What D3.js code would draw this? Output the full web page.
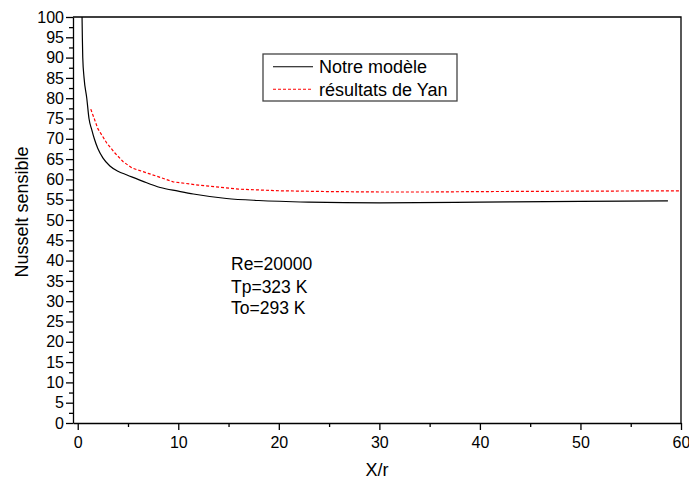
<!DOCTYPE html>
<html>
<head>
<meta charset="utf-8">
<script src="https://cdn.jsdelivr.net/npm/d3@7"></script>
<style>
  body { margin: 0; background: #fff; }
  svg { display: block; font-family: Arial, "Liberation Sans", sans-serif; }
</style>
</head>
<body>
<svg width="689" height="479"></svg>
<script>
// Notre modèle (solid black)
var modelX = [0.43, 0.46, 0.5, 0.63, 0.9, 1.12, 1.4, 1.65, 2.0, 2.5, 3.2, 4.0, 4.9, 6.5, 8.2, 10, 11.5, 14.8, 18, 23, 30, 40, 50, 58.7];
var modelY = [100, 95, 90, 85, 80, 75, 72.2, 70, 67.6, 65.3, 63.3, 62.0, 61.1, 59.5, 58.0, 57.1, 56.4, 55.3, 54.8, 54.4, 54.2, 54.4, 54.6, 54.7];

// résultats de Yan (red dashed)
var yanX = [1.3, 2, 2.9, 3.7, 4.5, 5.4, 7, 9.5, 12, 16, 20, 25, 30, 35, 40, 50, 60];
var yanY = [77.3, 72.5, 68.9, 66.5, 64.4, 62.8, 61.5, 59.4, 58.6, 57.6, 57.2, 57.0, 56.9, 56.9, 57.0, 57.1, 57.2];

var xTicks = [0, 10, 20, 30, 40, 50, 60];
var xMinor = [5, 15, 25, 35, 45, 55];
var yTicks = d3.range(0, 101, 5);
var yMinor = d3.range(2.5, 100, 5);

var legendLabels = ["Notre modèle", "résultats de Yan"];
var notes = ["Re=20000", "Tp=323 K", "To=293 K"];

var svg = d3.select("svg"),
    margin = {top: 17, right: 8, bottom: 56, left: 73},
    width = +svg.attr("width"),
    height = +svg.attr("height");

var x = d3.scaleLinear()
    .domain([-0.47, 60])
    .range([margin.left, width - margin.right]);

var y = d3.scaleLinear()
    .domain([0, 100])
    .range([height - margin.bottom, margin.top]);

// frame (top and right)
svg.append("path")
    .attr("d", "M" + x.range()[0] + "," + y(100) + "H" + x.range()[1] + "V" + y(0))
    .attr("fill", "none")
    .attr("stroke", "#000")
    .attr("stroke-width", 1.3);

// minor ticks
svg.append("g")
    .attr("transform", "translate(0," + y(0) + ")")
    .call(d3.axisBottom(x).tickValues(xMinor).tickSize(4).tickFormat(""))
    .call(function(g) { g.select(".domain").remove(); });

svg.append("g")
    .attr("transform", "translate(" + margin.left + ",0)")
    .call(d3.axisLeft(y).tickValues(yMinor).tickSize(4).tickFormat(""))
    .call(function(g) { g.select(".domain").remove(); });

// major axes
var xAxis = svg.append("g")
    .attr("transform", "translate(0," + y(0) + ")")
    .call(d3.axisBottom(x).tickValues(xTicks).tickSize(7).tickPadding(7).tickSizeOuter(0));

var yAxis = svg.append("g")
    .attr("transform", "translate(" + margin.left + ",0)")
    .call(d3.axisLeft(y).tickValues(yTicks).tickSize(7).tickPadding(2).tickSizeOuter(0));

svg.selectAll(".tick line").attr("stroke-width", 1.3);
svg.selectAll(".domain").attr("stroke-width", 1.3);
[xAxis, yAxis].forEach(function(a) {
  a.selectAll("text").attr("font-size", 16).attr("font-family", null).attr("fill", "#000");
});

var line = d3.line()
    .x(function(d) { return x(d[0]); })
    .y(function(d) { return y(d[1]); });

svg.append("path")
    .datum(modelX.map(function(v, i) { return [v, modelY[i]]; }))
    .attr("fill", "none")
    .attr("stroke", "#000")
    .attr("stroke-width", 1.2)
    .attr("d", line.curve(d3.curveMonotoneX));

svg.append("path")
    .datum(yanX.map(function(v, i) { return [v, yanY[i]]; }))
    .attr("fill", "none")
    .attr("stroke", "#ff0000")
    .attr("stroke-width", 1.2)
    .attr("stroke-dasharray", "3,2")
    .attr("d", line.curve(d3.curveLinear));

// legend
var legend = svg.append("g").attr("transform", "translate(263,54)");
legend.append("rect")
    .attr("width", 194).attr("height", 47)
    .attr("fill", "#fff").attr("stroke", "#444").attr("stroke-width", 1.3);
legendLabels.forEach(function(t, i) {
  var ly = 12.7 + i * 22.6;
  legend.append("line")
      .attr("x1", 10).attr("x2", 50).attr("y1", ly).attr("y2", ly)
      .attr("stroke", i ? "#ff0000" : "#000")
      .attr("stroke-width", 1.1)
      .attr("stroke-dasharray", i ? "3,2" : null);
  legend.append("text")
      .attr("x", 56).attr("y", ly + 6.5)
      .attr("font-size", 18)
      .text(t);
});

// annotation
notes.forEach(function(t, i) {
  svg.append("text")
      .attr("x", 231)
      .attr("y", [270, 292.7, 313.5][i])
      .attr("font-size", 17.5)
      .text(t);
});

// axis titles
svg.append("text")
    .attr("x", (x.range()[0] + x.range()[1]) / 2)
    .attr("y", 476)
    .attr("text-anchor", "middle")
    .attr("font-size", 18)
    .text("X/r");

svg.append("text")
    .attr("transform", "translate(28,212) rotate(-90)")
    .attr("text-anchor", "middle")
    .attr("font-size", 18)
    .text("Nusselt sensible");
</script>
</body>
</html>
